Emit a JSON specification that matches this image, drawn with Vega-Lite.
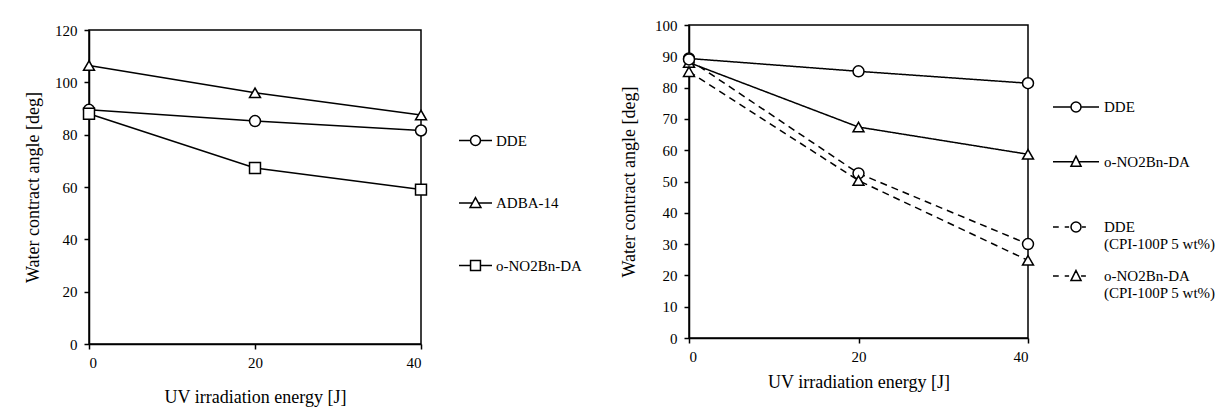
{
  "$schema": "https://vega.github.io/schema/vega-lite/v6.json",
  "background": "white",
  "padding": {"left": 23, "top": 17, "right": 5, "bottom": 5},
  "config": {
    "font": "Liberation Serif",
    "view": {"stroke": "black", "strokeWidth": 1.5},
    "axis": {
      "domainColor": "black", "domainWidth": 1.5, "tickColor": "black", "tickWidth": 1.5, "tickSize": 5,
      "labelFont": "Liberation Serif", "titleFont": "Liberation Serif",
      "labelFontSize": 15, "labelColor": "black", "titleFontSize": 18, "titleFontWeight": "normal", "titleColor": "black", "grid": false
    },
    "axisX": {"encode": {"ticks": {"update": {"y": {"value": -5}}}}},
    "axisY": {"encode": {"ticks": {"update": {"x": {"value": 5}}}}},
    "legend": {"labelFont": "Liberation Serif", "labelFontSize": 15, "labelColor": "black", "padding": 0, "title": null}
  },
  "datasets": {
    "left": [
      {"series": "DDE", "energy": 0, "angle": 89.5},
      {"series": "DDE", "energy": 20, "angle": 85.2},
      {"series": "DDE", "energy": 40, "angle": 81.6},
      {"series": "ADBA-14", "energy": 0, "angle": 106.4},
      {"series": "ADBA-14", "energy": 20, "angle": 96},
      {"series": "ADBA-14", "energy": 40, "angle": 87.5},
      {"series": "o-NO2Bn-DA", "energy": 0, "angle": 88},
      {"series": "o-NO2Bn-DA", "energy": 20, "angle": 67.3},
      {"series": "o-NO2Bn-DA", "energy": 40, "angle": 59}
    ],
    "right": [
      {"series": "DDE", "group": "solid", "energy": 0, "angle": 89.3},
      {"series": "DDE", "group": "solid", "energy": 20, "angle": 85.2},
      {"series": "DDE", "group": "solid", "energy": 40, "angle": 81.4},
      {"series": "o-NO2Bn-DA", "group": "solid", "energy": 0, "angle": 88},
      {"series": "o-NO2Bn-DA", "group": "solid", "energy": 20, "angle": 67.4},
      {"series": "o-NO2Bn-DA", "group": "solid", "energy": 40, "angle": 58.7},
      {"series": "DDE (CPI-100P 5 wt%)", "group": "dashed", "energy": 0, "angle": 89},
      {"series": "DDE (CPI-100P 5 wt%)", "group": "dashed", "energy": 20, "angle": 52.6},
      {"series": "DDE (CPI-100P 5 wt%)", "group": "dashed", "energy": 40, "angle": 30},
      {"series": "o-NO2Bn-DA (CPI-100P 5 wt%)", "group": "dashed", "energy": 0, "angle": 85.1},
      {"series": "o-NO2Bn-DA (CPI-100P 5 wt%)", "group": "dashed", "energy": 20, "angle": 50.3},
      {"series": "o-NO2Bn-DA (CPI-100P 5 wt%)", "group": "dashed", "energy": 40, "angle": 24.8}
    ]
  },
  "spacing": 36,
  "hconcat": [
    {"spacing": -4, "vconcat": [
    {
      "width": 1, "height": 1,
      "view": {"stroke": null},
      "data": {"values": []},
      "mark": "point",
      "encoding": {}
    },
    {
      "width": 332, "height": 314,
      "data": {"name": "left"},
      "resolve": {"scale": {"shape": "independent"}, "legend": {"shape": "independent"}},
      "encoding": {
        "x": {"field": "energy", "type": "quantitative", "scale": {"domain": [0, 40], "nice": false},
              "axis": {"values": [0, 20, 40], "title": "UV irradiation energy [J]", "labelPadding": 6, "titlePadding": 18}},
        "y": {"field": "angle", "type": "quantitative", "scale": {"domain": [0, 120], "nice": false},
              "axis": {"values": [0, 20, 40, 60, 80, 100, 120], "title": "Water contract angle [deg]", "labelPadding": 7, "titlePadding": 12}}
      },
      "layer": [
        {"mark": {"type": "line", "color": "black", "strokeWidth": 1.5},
         "encoding": {"detail": {"field": "series"}}},
        {"mark": {"type": "point", "filled": true, "fill": "white", "stroke": "black", "strokeWidth": 1.5, "size": 120, "opacity": 1},
         "encoding": {"shape": {"field": "series", "type": "nominal",
           "scale": {"domain": ["DDE", "ADBA-14", "o-NO2Bn-DA"], "range": ["circle", "triangle-up", "square"]}, "legend": null}}},
        {"mark": {"type": "point", "filled": true, "fill": "white", "stroke": "black", "strokeWidth": 1.5, "opacity": 0},
         "encoding": {"shape": {"field": "series", "type": "nominal",
           "scale": {"domain": ["DDE", "ADBA-14", "o-NO2Bn-DA"],
             "range": [
               "M-1,0H-0.3M0.3,0H1M-0.3,0A0.3,0.3 0 1,0 0.3,0A0.3,0.3 0 1,0 -0.3,0Z",
               "M-1,0H-0.18M0.18,0H1M0,-0.33L0.33,0.27L-0.33,0.27Z",
               "M-1,0H-0.3M0.3,0H1M-0.3,-0.3H0.3V0.3H-0.3Z"
             ]},
           "legend": {"orient": "none", "legendX": 369, "legendY": 93, "symbolSize": 1089, "rowPadding": 36.5, "labelOffset": 3,
             "symbolStrokeWidth": 1.5, "symbolOpacity": 1,
             "encode": {"symbols": {"update": {"fill": {"value": "white"}, "stroke": {"value": "black"}, "opacity": {"value": 1}, "strokeWidth": {"value": 1.5}}}}}}}}
      ]
    }]},
    {
      "width": 339, "height": 313,
      "data": {"name": "right"},
      "resolve": {"scale": {"shape": "independent"}, "legend": {"shape": "independent"}},
      "encoding": {
        "x": {"field": "energy", "type": "quantitative", "scale": {"domain": [0, 40], "nice": false},
              "axis": {"values": [0, 20, 40], "title": "UV irradiation energy [J]", "labelPadding": 6, "titlePadding": 9}},
        "y": {"field": "angle", "type": "quantitative", "scale": {"domain": [0, 100], "nice": false},
              "axis": {"values": [0, 10, 20, 30, 40, 50, 60, 70, 80, 90, 100], "title": "Water contract angle [deg]", "labelPadding": 7, "titlePadding": 16}}
      },
      "layer": [
        {"mark": {"type": "line", "color": "black", "strokeWidth": 1.5},
         "encoding": {"detail": {"field": "series"},
           "strokeDash": {"field": "group", "type": "nominal", "scale": {"domain": ["solid", "dashed"], "range": [[1, 0], [7, 5]]}, "legend": null}}},
        {"mark": {"type": "point", "filled": true, "fill": "white", "stroke": "black", "strokeWidth": 1.5, "size": 120, "opacity": 1},
         "encoding": {"shape": {"field": "series", "type": "nominal",
           "scale": {"domain": ["DDE", "o-NO2Bn-DA", "DDE (CPI-100P 5 wt%)", "o-NO2Bn-DA (CPI-100P 5 wt%)"], "range": ["circle", "triangle-up", "circle", "triangle-up"]}, "legend": null}}},
        {"transform": [{"filter": "datum.group == 'solid'"}],
         "mark": {"type": "point", "filled": true, "fill": "white", "stroke": "black", "strokeWidth": 1.5, "opacity": 0},
         "encoding": {"shape": {"field": "series", "type": "nominal",
           "scale": {"domain": ["DDE", "o-NO2Bn-DA"],
             "range": [
               "M-1,0H-0.217M0.217,0H1M-0.217,0A0.217,0.217 0 1,0 0.217,0A0.217,0.217 0 1,0 -0.217,0Z",
               "M-1,0H-0.12M0.12,0H1M0,-0.24L0.22,0.2L-0.22,0.2Z"
             ]},
           "legend": {"orient": "none", "legendX": 363, "legendY": 58, "symbolSize": 2116, "rowPadding": 22.7, "labelOffset": 4,
             "symbolStrokeWidth": 1.5, "symbolOpacity": 1,
             "encode": {"symbols": {"update": {"fill": {"value": "white"}, "stroke": {"value": "black"}, "opacity": {"value": 1}, "strokeWidth": {"value": 1.5}}}}}}}},
        {"transform": [{"filter": "datum.group == 'dashed'"}],
         "mark": {"type": "point", "filled": true, "fill": "white", "stroke": "black", "strokeWidth": 1.5, "opacity": 0},
         "encoding": {"shape": {"field": "series", "type": "nominal",
           "scale": {"domain": ["DDE (CPI-100P 5 wt%)", "o-NO2Bn-DA (CPI-100P 5 wt%)"],
             "range": [
               "M-1,0H-0.75M-0.49,0H-0.3M0.26,0H0.43M-0.217,0A0.217,0.217 0 1,0 0.217,0A0.217,0.217 0 1,0 -0.217,0Z",
               "M-1,0H-0.75M-0.49,0H-0.3M0.22,0H0.43M0,-0.24L0.22,0.2L-0.22,0.2Z"
             ]},
           "legend": {"orient": "none", "legendX": 363, "legendY": 178, "symbolSize": 2116, "rowPadding": -1.5, "labelOffset": 4,
             "symbolStrokeWidth": 1.5, "symbolOpacity": 1,
             "labelExpr": "split(replace(datum.label, ' (', '|('), '|')",
             "encode": {"symbols": {"update": {"fill": {"value": "white"}, "stroke": {"value": "black"}, "opacity": {"value": 1}, "strokeWidth": {"value": 1.5}}},
                        "labels": {"update": {"lineHeight": {"value": 19}}}}}}}}
      ]
    }
  ]
}
